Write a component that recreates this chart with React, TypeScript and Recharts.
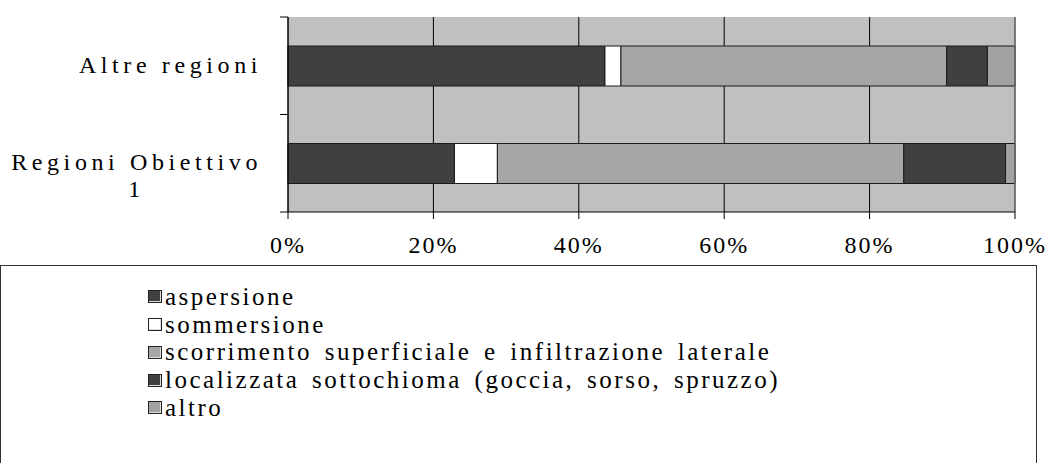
import React, { useLayoutEffect, useRef, useState } from 'react';
import {
  BarChart,
  Bar,
  XAxis,
  YAxis,
  CartesianGrid,
  ReferenceLine,
} from 'recharts';

// categories, top to bottom
const categories = ['Altre regioni', 'Regioni Obiettivo 1'];
const categoryLines = [['Altre regioni'], ['Regioni Obiettivo', '1']];

// shares (%) per irrigation method
const aspersione = [43.6, 22.9];
const sommersione = [2.2, 5.9];
const scorrimento = [44.8, 55.9];
const localizzata = [5.6, 14.0];
const altro = [3.8, 1.3];

const seriesKeys = ['aspersione', 'sommersione', 'scorrimento', 'localizzata', 'altro'];
const seriesNames = [
  'aspersione',
  'sommersione',
  'scorrimento superficiale e infiltrazione laterale',
  'localizzata sottochioma (goccia, sorso, spruzzo)',
  'altro',
];
const seriesColors = ['#404040', '#ffffff', '#a6a6a6', '#404040', '#a2a2a2'];

const xTicks = [0, 20, 40, 60, 80, 100];

const data = categories.map((name, i) => ({
  name,
  aspersione: aspersione[i],
  sommersione: sommersione[i],
  scorrimento: scorrimento[i],
  localizzata: localizzata[i],
  altro: altro[i],
}));

const CHART_W = 1061;
const CHART_H = 265;
const MARGIN = { top: 17, right: 46, bottom: 0, left: 0 };
const X_AXIS_H = 53;
const Y_AXIS_W = 288;
const BAND = (CHART_H - MARGIN.top - MARGIN.bottom - X_AXIS_H) / categories.length;
const FONT = "'Liberation Serif', 'DejaVu Serif', 'Times New Roman', Times, serif";

const CategoryTick = (props: any) => {
  const { x, y, payload } = props;
  const idx = categories.indexOf(payload.value);
  const lines = categoryLines[idx] ?? [payload.value];
  const ref = useRef<SVGGElement>(null);
  const [w, setW] = useState(0);
  useLayoutEffect(() => {
    if (ref.current) {
      const bw = ref.current.getBBox().width;
      if (Math.abs(bw - w) > 0.5) setW(bw);
    }
  });
  const axisX = x + 26;
  const lineH = 27;
  return (
    <g>
      <line x1={axisX - 8} x2={axisX} y1={y - BAND / 2} y2={y - BAND / 2} stroke="#000" />
      {idx === categories.length - 1 && (
        <line x1={axisX - 8} x2={axisX} y1={y + BAND / 2} y2={y + BAND / 2} stroke="#000" />
      )}
      <g ref={ref} transform={`translate(${x - w / 2},${y - 1})`}>
        {lines.map((l, i) => (
          <text
            key={i}
            x={0}
            y={i * lineH}
            textAnchor="middle"
            dominantBaseline="central"
            fontFamily={FONT}
            fontSize={24}
            letterSpacing={4.6}
            fill="#000"
          >
            {l}
          </text>
        ))}
      </g>
    </g>
  );
};

const App: React.FC = () => {
  return (
    <div style={{ position: 'absolute', left: 0, top: 0, width: 1061, height: 463, overflow: 'hidden', background: '#fff' }}>
      <BarChart width={CHART_W} height={CHART_H} data={data} layout="vertical" margin={MARGIN} barSize={40}>
        <CartesianGrid horizontal={false} stroke="#000" fill="#c0c0c0" fillOpacity={1} />
        <XAxis
          type="number"
          domain={[0, 100]}
          ticks={xTicks}
          tickFormatter={(v) => `${v}%`}
          height={X_AXIS_H}
          tickSize={7}
          tickMargin={17}
          axisLine={{ stroke: '#000' }}
          tickLine={{ stroke: '#000' }}
          tick={{ fill: '#000', fontSize: 24, fontFamily: FONT, letterSpacing: 2 }}
        />
        <XAxis
          xAxisId="top"
          orientation="top"
          type="number"
          domain={[0, 100]}
          height={0}
          tick={false}
          tickLine={false}
          axisLine={{ stroke: '#808080' }}
        />
        <YAxis
          type="category"
          dataKey="name"
          width={Y_AXIS_W}
          tickSize={8}
          tickMargin={18}
          tickLine={false}
          axisLine={{ stroke: '#000' }}
          tick={(p: any) => <CategoryTick {...p} />}
        />
        {seriesKeys.map((k, i) => (
          <Bar
            key={k}
            dataKey={k}
            name={seriesNames[i]}
            stackId="a"
            fill={seriesColors[i]}
            stroke="#1a1a1a"
            strokeWidth={1}
            isAnimationActive={false}
          />
        ))}
        <ReferenceLine x={100} stroke="#808080" />
      </BarChart>
      <div
        style={{
          position: 'absolute',
          left: 0,
          top: 265,
          width: 1037,
          height: 230,
          border: '1px solid #333',
          boxSizing: 'border-box',
          paddingTop: 17,
          fontFamily: FONT,
          fontSize: 25,
          letterSpacing: 2.5,
          wordSpacing: 4,
          color: '#000',
        }}
      >
        {seriesNames.map((n, i) => (
          <div key={n} style={{ height: 27.75, display: 'flex', alignItems: 'center', paddingLeft: 147 }}>
            <span
              style={{
                display: 'inline-block',
                width: 14,
                height: 13,
                boxSizing: 'border-box',
                background: seriesColors[i],
                border: '1px solid #222',
                boxShadow: 'inset -1px -1px 0 #ddd',
                marginRight: 3,
              }}
            />
            <span style={{ whiteSpace: 'nowrap' }}>{n}</span>
          </div>
        ))}
      </div>
    </div>
  );
};

export default App;
